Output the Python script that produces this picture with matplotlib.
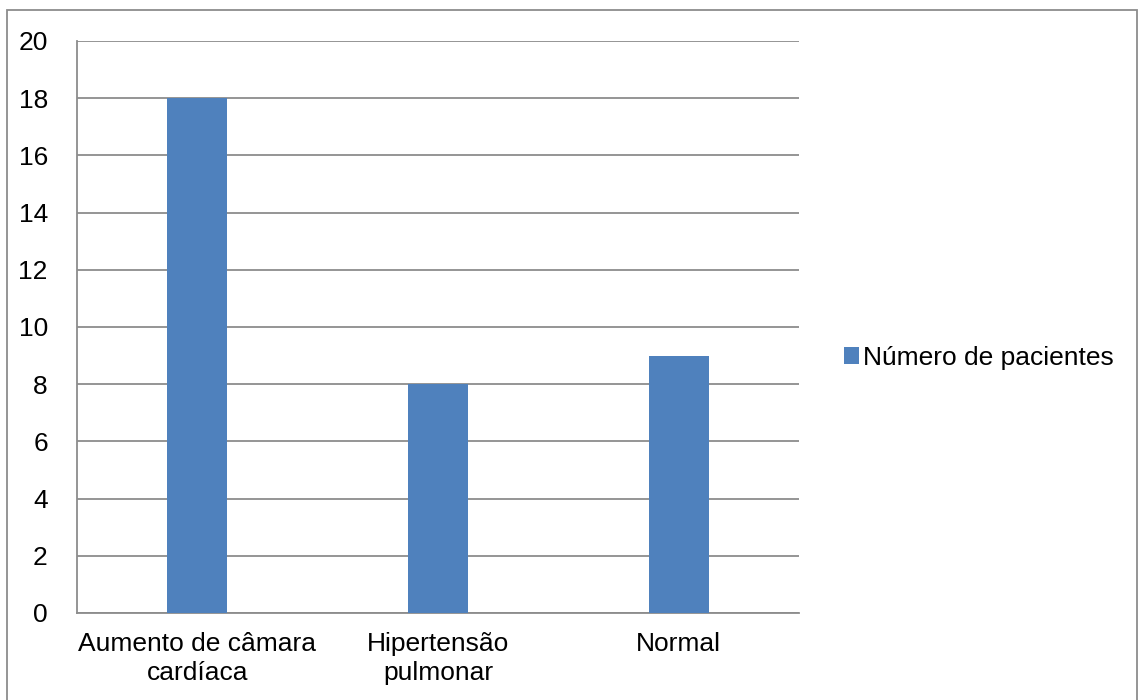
import matplotlib
matplotlib.use("Agg")
import matplotlib.pyplot as plt
from matplotlib.patches import Rectangle

categories = ["Aumento de câmara\ncardíaca", "Hipertensão\npulmonar", "Normal"]
values = [18, 8, 9]
series_name = "Número de pacientes"
yticks = [0, 2, 4, 6, 8, 10, 12, 14, 16, 18, 20]

plt.rcParams["font.family"] = ["Liberation Sans", "DejaVu Sans"]

fig = plt.figure(figsize=(11.45, 7.0), dpi=100)
ax = fig.add_axes([77 / 1145, 1 - 613 / 700, (799 - 77) / 1145, (613 - 41) / 700])

bar_color = "#4F81BD"
x = list(range(len(categories)))
bars = ax.bar(x, values, width=0.25, color=bar_color, zorder=3, label=series_name)

ax.set_xlim(-0.5, len(categories) - 0.5)
ax.set_ylim(0, 20)
ax.set_yticks(yticks)
ax.set_yticklabels([str(v) for v in yticks], fontsize=19)
ax.set_xticks(x)
ax.set_xticklabels(categories, fontsize=19, linespacing=1.22)
ax.tick_params(axis="both", length=0, colors="black")
ax.tick_params(axis="y", pad=21)
ax.tick_params(axis="x", pad=14)

ax.yaxis.grid(True, color="#8C8C8C", linewidth=1.3, zorder=0)
ax.set_axisbelow(True)
for side in ["top", "right"]:
    ax.spines[side].set_visible(False)
for side in ["left", "bottom"]:
    ax.spines[side].set_color("#8C8C8C")
    ax.spines[side].set_linewidth(1.3)

leg = fig.legend(handles=[bars], labels=[series_name], loc="center left",
                 bbox_to_anchor=(833 / 1145, 1 - 358 / 700), frameon=False,
                 fontsize=19, handlelength=0.6, handleheight=0.6,
                 handletextpad=0.15, borderaxespad=0)

# outer chart frame (bottom edge runs past the canvas)
fig.patches.append(Rectangle((7 / 1145, -0.02), (1137 - 7) / 1145, 1.02 - 10 / 700,
                             transform=fig.transFigure, fill=False,
                             edgecolor="#8C8C8C", linewidth=1.3))

fig.savefig("out.png", dpi=100)
